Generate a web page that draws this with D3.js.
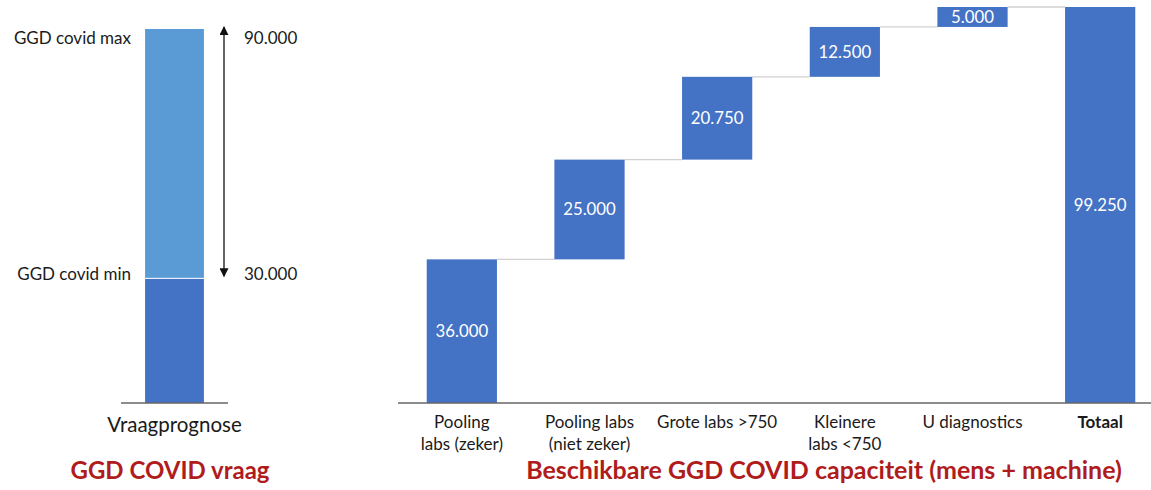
<!DOCTYPE html>
<html>
<head>
<meta charset="utf-8">
<script src="https://cdn.jsdelivr.net/npm/d3@7"></script>
<style>
  body { margin: 0; background: #fff; }
  svg text { font-family: Lato, "Open Sans", sans-serif; }
</style>
</head>
<body>
<div id="chart"></div>
<script>
// demand forecast (left)
let demandLabels = ['GGD covid min', 'GGD covid max'];
let demandValues = [30000, 90000];
let demandTicks = ['30.000', '90.000'];

// capacity waterfall (right)
let categories = [['Pooling', 'labs (zeker)'], ['Pooling labs', '(niet zeker)'], ['Grote labs >750'],
  ['Kleinere', 'labs <750'], ['U diagnostics'], ['Totaal']];
let steps = [36000, 25000, 20750, 12500, 5000];
let valueLabels = ['36.000', '25.000', '20.750', '12.500', '5.000', '99.250'];

let width = 1151;
let height = 490;
let dark = '#4472C4';
let light = '#5B9BD5';
let red = '#B01C1C';

let svg = d3.select('#chart').append('svg')
  .attr('width', width)
  .attr('height', height);

svg.append('defs').append('marker')
  .attr('id', 'arrow')
  .attr('viewBox', '0 0 10 10')
  .attr('refX', 9).attr('refY', 5)
  .attr('markerWidth', 9).attr('markerHeight', 9)
  .attr('markerUnits', 'userSpaceOnUse')
  .attr('orient', 'auto-start-reverse')
  .append('path')
  .attr('d', 'M0,0 L10,5 L0,10 Z')
  .attr('fill', '#111');

// ---------- left: vraagprognose ----------
let yLeft = d3.scaleLinear().domain([0, 90000]).range([403, 29]);
let xLeft = d3.scaleBand().domain(['Vraagprognose']).range([121, 228]).paddingInner(0.45).paddingOuter(0.22);

let segments = [
  {from: 0, to: demandValues[0], color: dark},
  {from: demandValues[0], to: demandValues[1], color: light}
];

svg.selectAll('.demand')
  .data(segments)
  .enter().append('rect')
  .attr('class', 'demand')
  .attr('x', xLeft('Vraagprognose'))
  .attr('width', xLeft.bandwidth())
  .attr('y', d => yLeft(d.to))
  .attr('height', d => yLeft(d.from) - yLeft(d.to))
  .attr('fill', d => d.color);

svg.append('line')
  .attr('x1', xLeft('Vraagprognose') - 1).attr('x2', xLeft('Vraagprognose') + xLeft.bandwidth() + 1)
  .attr('y1', yLeft(demandValues[0])).attr('y2', yLeft(demandValues[0]))
  .attr('stroke', '#fff').attr('stroke-width', 1);

svg.append('line')
  .attr('x1', 121).attr('x2', 228)
  .attr('y1', yLeft(0)).attr('y2', yLeft(0))
  .attr('stroke', '#666').attr('stroke-width', 1.3);

svg.append('line')
  .attr('x1', 224).attr('x2', 224)
  .attr('y1', yLeft(demandValues[0]) - 2).attr('y2', yLeft(demandValues[1]) - 2)
  .attr('stroke', '#111').attr('stroke-width', 1.3)
  .attr('marker-start', 'url(#arrow)')
  .attr('marker-end', 'url(#arrow)');

// label offsets: max label sits just under the bar top, min label on the split
let labelShift = [2, 15];

svg.selectAll('.demand-label')
  .data(demandLabels)
  .enter().append('text')
  .attr('x', 131)
  .attr('y', (d, i) => yLeft(demandValues[i]) + labelShift[i])
  .attr('text-anchor', 'end')
  .attr('font-size', 17)
  .attr('fill', '#1a1a1a')
  .text(d => d);

svg.selectAll('.demand-tick')
  .data(demandTicks)
  .enter().append('text')
  .attr('x', 244)
  .attr('y', (d, i) => yLeft(demandValues[i]) + labelShift[i])
  .attr('font-size', 17)
  .attr('fill', '#1a1a1a')
  .text(d => d);

svg.append('text')
  .attr('x', xLeft('Vraagprognose') + xLeft.bandwidth() / 2)
  .attr('y', 432)
  .attr('text-anchor', 'middle')
  .attr('font-size', 20.5)
  .attr('fill', '#1a1a1a')
  .text('Vraagprognose');

svg.append('text')
  .attr('x', 170)
  .attr('y', 479)
  .attr('text-anchor', 'middle')
  .attr('font-size', 24)
  .attr('font-weight', 'bold')
  .attr('fill', red)
  .text('GGD COVID vraag');

// ---------- right: waterfall ----------
let total = d3.sum(steps);
let bars = [];
let run = 0;
steps.forEach((v, i) => {
  bars.push({i: i, start: run, end: run + v});
  run += v;
});
bars.push({i: steps.length, start: 0, end: total});

let x = d3.scaleBand().domain(d3.range(categories.length)).range([398, 1164])
  .paddingInner(0.45).paddingOuter(0.225);
let y = d3.scaleLinear().domain([0, total]).range([403, 7]);

// connectors
svg.selectAll('.connector')
  .data(bars.slice(0, -1))
  .enter().append('line')
  .attr('class', 'connector')
  .attr('x1', d => x(d.i) + x.bandwidth())
  .attr('x2', d => x(d.i + 1))
  .attr('y1', d => y(d.end))
  .attr('y2', d => y(d.end))
  .attr('stroke', '#d0d0d0')
  .attr('stroke-width', 1.3);

svg.selectAll('.bar')
  .data(bars)
  .enter().append('rect')
  .attr('class', 'bar')
  .attr('x', d => x(d.i))
  .attr('width', x.bandwidth())
  .attr('y', d => y(d.end))
  .attr('height', d => y(d.start) - y(d.end))
  .attr('fill', dark);

svg.selectAll('.bar-label')
  .data(bars)
  .enter().append('text')
  .attr('x', d => x(d.i) + x.bandwidth() / 2)
  .attr('y', d => (y(d.start) + y(d.end)) / 2 + 6)
  .attr('text-anchor', 'middle')
  .attr('font-size', 16.8)
  .attr('fill', '#fff')
  .text((d, i) => valueLabels[i]);

svg.append('line')
  .attr('x1', 398).attr('x2', 1151)
  .attr('y1', y(0)).attr('y2', y(0))
  .attr('stroke', '#666').attr('stroke-width', 1.3);

let cat = svg.selectAll('.cat')
  .data(categories)
  .enter().append('text')
  .attr('class', 'cat')
  .attr('text-anchor', 'middle')
  .attr('font-size', 17)
  .attr('fill', '#1a1a1a')
  .attr('font-weight', (d, i) => i === categories.length - 1 ? 'bold' : 'normal');

cat.each(function (lines, ci) {
  d3.select(this).selectAll('tspan')
    .data(lines)
    .enter().append('tspan')
    .attr('x', x(ci) + x.bandwidth() / 2)
    .attr('y', (d, i) => 428 + i * 22)
    .text(d => d);
});

svg.append('text')
  .attr('x', 824)
  .attr('y', 479)
  .attr('text-anchor', 'middle')
  .attr('font-size', 25)
  .attr('font-weight', 'bold')
  .attr('fill', red)
  .text('Beschikbare GGD COVID capaciteit (mens + machine)');
</script>
</body>
</html>
